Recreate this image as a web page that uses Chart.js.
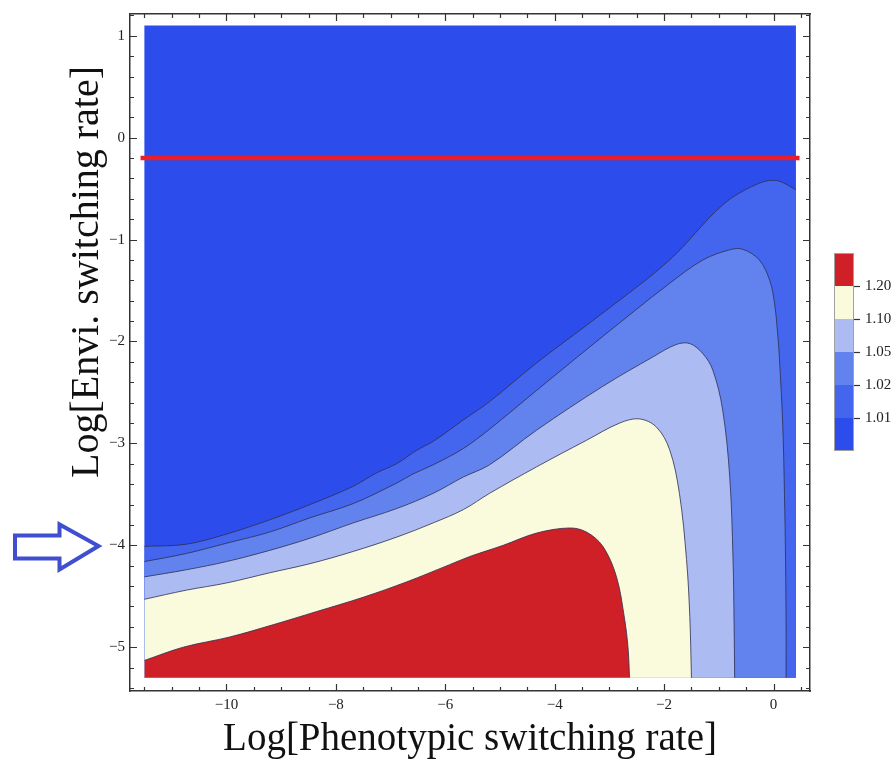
<!DOCTYPE html>
<html>
<head>
<meta charset="utf-8">
<script src="https://cdn.jsdelivr.net/npm/chart.js@4.4.0/dist/chart.umd.min.js"></script>
<style>
html,body{margin:0;padding:0;background:#ffffff;}
#wrap{width:896px;height:760px;position:relative;}
</style>
</head>
<body>
<div id="wrap"><canvas id="c" width="896" height="760"></canvas></div>
<script>
// ---------------- DATA ----------------
const xAxisRange = [-11.763, 0.667];
const yAxisRange = [-5.43, 1.214];
const regionX = [-11.5, 0.41];
const regionY = [-5.3, 1.1];

const xTickValues = [-10, -8, -6, -4, -2, 0];
const yTickValues = [-5, -4, -3, -2, -1, 0, 1];

const levelLabels = ['1.20', '1.10', '1.05', '1.02', '1.01'];

// contour lines [x, y] in log units
const contour101 = [[-11.5,-4.01],[-10.74,-3.99],[-10.0,-3.89],[-9.21,-3.75],[-8.47,-3.60],[-7.68,-3.42],[-7.26,-3.29],[-6.89,-3.20],[-6.53,-3.07],[-6.22,-2.98],[-5.67,-2.77],[-5.19,-2.59],[-4.33,-2.21],[-3.12,-1.72],[-1.90,-1.20],[-0.93,-0.66],[-0.32,-0.46],[0.05,-0.42],[0.41,-0.51]];
const contour102 = [[-11.5,-4.16],[-10.73,-4.08],[-10.0,-3.98],[-9.21,-3.87],[-8.47,-3.73],[-7.68,-3.59],[-6.89,-3.39],[-6.59,-3.30],[-6.22,-3.21],[-5.67,-3.05],[-5.19,-2.86],[-4.33,-2.48],[-3.12,-1.95],[-1.90,-1.43],[-1.29,-1.20],[-0.80,-1.10],[-0.56,-1.095],[-0.26,-1.20],[-0.07,-1.40],[0.02,-1.63],[0.08,-1.95],[0.11,-2.18],[0.17,-2.84],[0.20,-3.49],[0.22,-4.14],[0.23,-4.8],[0.23,-5.3]];
const contour105 = [[-11.5,-4.31],[-10.73,-4.24],[-10.0,-4.16],[-9.21,-4.05],[-8.47,-3.93],[-7.68,-3.78],[-6.89,-3.64],[-6.22,-3.49],[-5.67,-3.33],[-5.19,-3.21],[-4.33,-2.87],[-3.12,-2.44],[-2.20,-2.15],[-1.78,-2.03],[-1.53,-2.02],[-1.29,-2.12],[-1.11,-2.28],[-0.93,-2.67],[-0.80,-3.33],[-0.74,-4.14],[-0.72,-4.8],[-0.71,-5.3]];
const contour110 = [[-11.5,-4.53],[-10.73,-4.44],[-10.0,-4.37],[-9.21,-4.27],[-8.47,-4.18],[-7.68,-4.06],[-6.89,-3.92],[-6.22,-3.78],[-5.67,-3.65],[-5.19,-3.49],[-4.33,-3.23],[-3.42,-2.97],[-2.81,-2.80],[-2.45,-2.76],[-2.14,-2.84],[-1.90,-3.06],[-1.72,-3.49],[-1.59,-4.14],[-1.53,-4.7],[-1.50,-5.3]];
const contour120 = [[-11.5,-5.13],[-10.79,-5.0],[-9.94,-4.90],[-9.15,-4.78],[-8.35,-4.65],[-7.50,-4.51],[-6.71,-4.36],[-5.92,-4.19],[-5.55,-4.11],[-4.94,-4.0],[-4.33,-3.88],[-3.73,-3.83],[-3.42,-3.87],[-3.12,-4.01],[-2.87,-4.31],[-2.72,-4.73],[-2.66,-5.0],[-2.63,-5.3]];

const redLineX = [-11.57, 0.475];
const redLineY = -0.2;

// ---------------- STYLE ----------------
const colBase = '#2c4deb';
const col101 = '#4465ee';
const col102 = '#6283ee';
const col105 = '#acbcf3';
const col110 = '#fafadd';
const col120 = '#d02027';
const legendColors = [col120, col110, col105, col102, col101, colBase];
const contourStroke = 'rgba(45,45,80,0.8)';
const serif = '"Liberation Serif", "Times New Roman", serif';

function regionDataset(pts, color, order) {
  return {
    data: pts.map(p => ({x: p[0], y: p[1]})), showLine: true,
    fill: { value: regionY[0] }, backgroundColor: color,
    borderColor: contourStroke, borderWidth: 1, pointRadius: 0, tension: 0.35, order: order
  };
}

const baseRect = [
  {x: regionX[0], y: regionY[0]}, {x: regionX[0], y: regionY[1]},
  {x: regionX[1], y: regionY[1]}, {x: regionX[1], y: regionY[0]}
];

const near = (a, b) => Math.abs(a - b) < 1e-6;
const fmt = v => (v < 0 ? '\u2212' + Math.abs(v) : String(v));

const decor = {
  id: 'decor',
  afterDraw(chart) {
    const ctx = chart.ctx;
    const sx = chart.scales.x, sy = chart.scales.y;
    const a = chart.chartArea;
    ctx.save();
    ctx.strokeStyle = '#333';
    ctx.lineWidth = 1.2;
    ctx.beginPath();
    for (let i = -23; i <= 1; i++) {
      const v = i * 0.5;
      const px = Math.round(sx.getPixelForValue(v)) + 0.5;
      const major = xTickValues.some(t => near(t, v));
      const L = major ? 7 : 4;
      ctx.moveTo(px, a.bottom); ctx.lineTo(px, a.bottom - L);
      ctx.moveTo(px, a.top); ctx.lineTo(px, a.top + L);
    }
    for (let i = -27; i <= 6; i++) {
      const v = i * 0.2;
      const py = Math.round(sy.getPixelForValue(v)) + 0.5;
      const major = yTickValues.some(t => near(t, v));
      const L = major ? 7 : 4;
      ctx.moveTo(a.left, py); ctx.lineTo(a.left + L, py);
      ctx.moveTo(a.right, py); ctx.lineTo(a.right - L, py);
    }
    ctx.stroke();

    // y axis title
    ctx.fillStyle = '#111';
    ctx.font = '40px ' + serif;
    ctx.save();
    ctx.translate(98, 272);
    ctx.rotate(-Math.PI / 2);
    ctx.textAlign = 'center';
    ctx.textBaseline = 'alphabetic';
    ctx.fillText('Log[Envi. switching rate]', 0, 0);
    ctx.restore();

    // arrow
    ctx.beginPath();
    ctx.moveTo(15, 535.5); ctx.lineTo(59.5, 535.5); ctx.lineTo(59.5, 524.5);
    ctx.lineTo(98.5, 546); ctx.lineTo(59.5, 569.5); ctx.lineTo(59.5, 558.5);
    ctx.lineTo(15, 558.5); ctx.closePath();
    ctx.fillStyle = '#ffffff'; ctx.fill();
    ctx.strokeStyle = '#3f4fd0'; ctx.lineWidth = 4; ctx.lineJoin = 'miter';
    ctx.stroke();

    // colour bar legend
    const lx = 834, lw = 20, ly = 253, sh = 33;
    legendColors.forEach((c, i) => {
      ctx.fillStyle = c;
      ctx.fillRect(lx, ly + i * sh, lw, sh);
    });
    ctx.strokeStyle = '#a0a0a0'; ctx.lineWidth = 1;
    ctx.strokeRect(lx + 0.5, ly + 0.5, lw - 1, sh * legendColors.length - 1);
    ctx.strokeStyle = '#333'; ctx.lineWidth = 1.2;
    ctx.fillStyle = '#222';
    ctx.font = '15px ' + serif;
    ctx.textAlign = 'left'; ctx.textBaseline = 'middle';
    levelLabels.forEach((t, i) => {
      const y = ly + (i + 1) * sh + 0.5;
      ctx.beginPath(); ctx.moveTo(lx + lw, y); ctx.lineTo(lx + lw + 6, y); ctx.stroke();
      ctx.fillText(t, lx + lw + 11, y);
    });
    ctx.restore();
  }
};

const borderOpt = { display: true, color: '#333', width: 1.5 };

new Chart(document.getElementById('c'), {
  type: 'scatter',
  data: {
    datasets: [
      { data: redLineX.map(x => ({x: x, y: redLineY})), showLine: true, fill: false,
        borderColor: '#ea1d2a', borderWidth: 4.5, pointRadius: 0, order: -1 },
      regionDataset(contour120, col120, 1),
      regionDataset(contour110, col110, 2),
      regionDataset(contour105, col105, 3),
      regionDataset(contour102, col102, 4),
      regionDataset(contour101, col101, 5),
      { data: baseRect, showLine: true, fill: 'shape', backgroundColor: colBase,
        borderWidth: 0, borderColor: 'rgba(0,0,0,0)', pointRadius: 0, order: 6 }
    ]
  },
  options: {
    responsive: false,
    animation: false,
    devicePixelRatio: 1,
    layout: { padding: 0 },
    plugins: { legend: { display: false }, tooltip: { enabled: false } },
    scales: {
      x: {
        type: 'linear', position: 'bottom', min: xAxisRange[0], max: xAxisRange[1],
        afterBuildTicks: s => { s.ticks = xTickValues.map(v => ({value: v})); },
        afterFit: s => { s.height = 69; },
        grid: { display: false, drawTicks: false },
        border: borderOpt,
        ticks: { padding: 5, color: '#222', font: { family: serif, size: 15 }, callback: v => fmt(v), maxRotation: 0 },
        title: { display: true, text: 'Log[Phenotypic switching rate]', color: '#111',
                 font: { family: serif, size: 39, lineHeight: 1.03 }, padding: { top: 0, bottom: 0 } }
      },
      y: {
        type: 'linear', position: 'left', min: yAxisRange[0], max: yAxisRange[1],
        afterBuildTicks: s => { s.ticks = yTickValues.map(v => ({value: v})); },
        afterFit: s => { s.width = 130; },
        grid: { display: false, drawTicks: false },
        border: borderOpt,
        ticks: { padding: 5, color: '#222', font: { family: serif, size: 15 }, callback: v => fmt(v) }
      },
      x2: {
        type: 'linear', position: 'top', min: xAxisRange[0], max: xAxisRange[1],
        afterFit: s => { s.height = 14; },
        grid: { display: false, drawTicks: false },
        border: borderOpt,
        ticks: { display: false }
      },
      y2: {
        type: 'linear', position: 'right', min: yAxisRange[0], max: yAxisRange[1],
        afterFit: s => { s.width = 86; },
        grid: { display: false, drawTicks: false },
        border: borderOpt,
        ticks: { display: false }
      }
    }
  },
  plugins: [decor]
});
</script>
</body>
</html>
